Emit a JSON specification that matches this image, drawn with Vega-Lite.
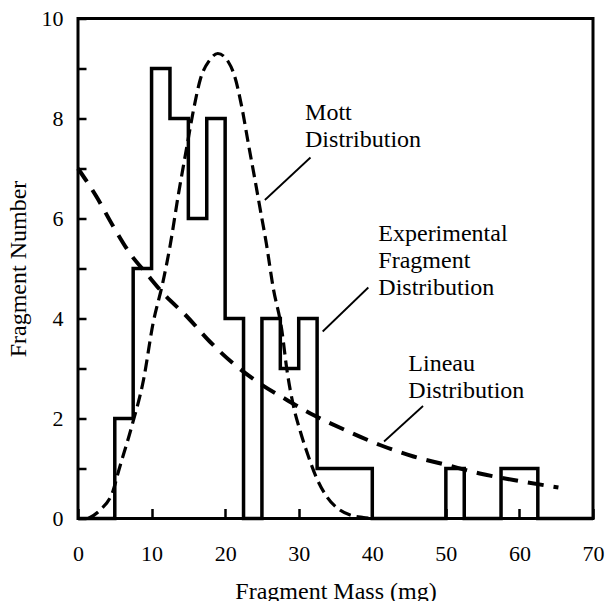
{
  "$schema": "https://vega.github.io/schema/vega-lite/v6.json",
  "width": 515,
  "height": 500,
  "autosize": "none",
  "padding": {"left": 78, "top": 18.5, "right": 12, "bottom": 82.5},
  "background": "white",
  "config": {
    "font": "Liberation Serif",
    "view": {"stroke": "black", "strokeWidth": 3},
    "axis": {
      "grid": false,
      "zindex": 1,
      "domain": false,
      "ticks": true,
      "tickColor": "black",
      "tickWidth": 2.5,
      "labelColor": "black",
      "titleColor": "black",
      "labelFont": "Liberation Serif",
      "titleFont": "Liberation Serif",
      "labelFontSize": 22,
      "titleFontSize": 24,
      "titleFontWeight": "normal",
      "labelFlush": false,
      "labelOverlap": false
    }
  },
  "datasets": {
    "hist": [
      {"x": 0, "y": 0}, {"x": 5, "y": 2}, {"x": 7.5, "y": 5}, {"x": 10, "y": 9},
      {"x": 12.5, "y": 8}, {"x": 15, "y": 6}, {"x": 17.5, "y": 8}, {"x": 20, "y": 4},
      {"x": 22.5, "y": 0}, {"x": 25, "y": 4}, {"x": 27.5, "y": 3}, {"x": 30, "y": 4},
      {"x": 32.5, "y": 1}, {"x": 40, "y": 0}, {"x": 50, "y": 1}, {"x": 52.5, "y": 0},
      {"x": 57.5, "y": 1}, {"x": 62.5, "y": 0}, {"x": 70, "y": 0}
    ],
    "mott": [
      {"x": 1.4, "y": 0}, {"x": 3.0, "y": 0.17}, {"x": 4.8, "y": 0.57}, {"x": 5.5, "y": 0.94},
      {"x": 7.3, "y": 1.84}, {"x": 8.9, "y": 2.77}, {"x": 10.2, "y": 3.9}, {"x": 11.5, "y": 4.7},
      {"x": 12.5, "y": 5.44}, {"x": 13.6, "y": 6.44}, {"x": 14.8, "y": 7.44}, {"x": 15.7, "y": 8.17},
      {"x": 16.6, "y": 8.77}, {"x": 17.9, "y": 9.17}, {"x": 19.0, "y": 9.3}, {"x": 20.4, "y": 9.14},
      {"x": 21.3, "y": 8.84}, {"x": 22.25, "y": 8.24}, {"x": 23.15, "y": 7.5}, {"x": 24.06, "y": 6.77},
      {"x": 24.7, "y": 6.24}, {"x": 25.6, "y": 5.5}, {"x": 26.5, "y": 4.64}, {"x": 27.7, "y": 3.77},
      {"x": 28.4, "y": 2.97}, {"x": 29.3, "y": 2.24}, {"x": 30.2, "y": 1.75}, {"x": 31.3, "y": 1.25},
      {"x": 32.4, "y": 0.82}, {"x": 33.8, "y": 0.44}, {"x": 35.6, "y": 0.17}, {"x": 37, "y": 0.07},
      {"x": 38.8, "y": 0.02}, {"x": 40, "y": 0}
    ],
    "lineau": [
      {"x": 0, "y": 7.0}, {"x": 2.5, "y": 6.44}, {"x": 4.8, "y": 5.84}, {"x": 7.07, "y": 5.3},
      {"x": 9.3, "y": 4.9}, {"x": 11.6, "y": 4.5}, {"x": 14.8, "y": 4.04}, {"x": 17.9, "y": 3.54},
      {"x": 21.1, "y": 3.1}, {"x": 24.7, "y": 2.7}, {"x": 28.4, "y": 2.37}, {"x": 32, "y": 2.07},
      {"x": 36.3, "y": 1.77}, {"x": 41.05, "y": 1.47}, {"x": 45.6, "y": 1.24}, {"x": 50.1, "y": 1.07},
      {"x": 54.6, "y": 0.9}, {"x": 59.2, "y": 0.77}, {"x": 65.3, "y": 0.62}
    ],
    "labels": [
      {"x": 30.86, "y": 7.97, "text": "Mott\nDistribution"},
      {"x": 40.82, "y": 5.556, "text": "Experimental\nFragment\nDistribution"},
      {"x": 44.9, "y": 2.956, "text": "Lineau\nDistribution"}
    ],
    "leaders": [
      {"x": 31.6, "y": 7.22, "x2": 25.4, "y2": 6.37},
      {"x": 39.46, "y": 4.62, "x2": 33.26, "y2": 3.74},
      {"x": 46.9, "y": 2.25, "x2": 41.6, "y2": 1.54}
    ]
  },
  "layer": [
    {
      "data": {"name": "hist"},
      "mark": {"type": "line", "interpolate": "step-after", "color": "black", "strokeWidth": 3.5, "clip": false},
      "encoding": {
        "x": {
          "field": "x", "type": "quantitative",
          "scale": {"domain": [0, 70], "nice": false},
          "axis": {
            "title": "Fragment Mass (mg)",
            "values": [0, 5, 10, 15, 20, 25, 30, 35, 40, 45, 50, 55, 60, 65, 70],
            "labelExpr": "datum.value % 10 === 0 ? datum.label : ''",
            "offset": -10,
            "tickSize": 10,
            "labelPadding": 41.5,
            "labelBaseline": "alphabetic",
            "titleY": 89.5,
            "titleBaseline": "alphabetic"
          }
        },
        "y": {
          "field": "y", "type": "quantitative",
          "scale": {"domain": [0, 10], "nice": false},
          "axis": {
            "title": "Fragment Number",
            "values": [0, 1, 2, 3, 4, 5, 6, 7, 8, 9, 10],
            "labelExpr": "datum.value % 2 === 0 ? datum.label : ''",
            "offset": -8,
            "tickSize": 8,
            "labelPadding": 15,
            "labelBaseline": "middle",
            "titleX": -61,
            "titleY": 250,
            "titleAngle": 270,
            "titleBaseline": "alphabetic",
            "titleAlign": "center"
          }
        }
      }
    },
    {
      "data": {"name": "mott"},
      "mark": {"type": "line", "interpolate": "monotone", "color": "black", "strokeWidth": 3.2, "strokeDash": [12, 6]},
      "encoding": {
        "x": {"field": "x", "type": "quantitative"},
        "y": {"field": "y", "type": "quantitative"}
      }
    },
    {
      "data": {"name": "lineau"},
      "mark": {"type": "line", "interpolate": "monotone", "color": "black", "strokeWidth": 4, "strokeDash": [16, 10]},
      "encoding": {
        "x": {"field": "x", "type": "quantitative"},
        "y": {"field": "y", "type": "quantitative"}
      }
    },
    {
      "data": {"name": "leaders"},
      "mark": {"type": "rule", "color": "black", "strokeWidth": 1.8},
      "encoding": {
        "x": {"field": "x", "type": "quantitative"},
        "y": {"field": "y", "type": "quantitative"},
        "x2": {"field": "x2"},
        "y2": {"field": "y2"}
      }
    },
    {
      "data": {"name": "labels"},
      "mark": {"type": "text", "align": "left", "baseline": "alphabetic", "fontSize": 24, "lineBreak": "\n", "lineHeight": 27, "color": "black", "font": "Liberation Serif"},
      "encoding": {
        "x": {"field": "x", "type": "quantitative"},
        "y": {"field": "y", "type": "quantitative"},
        "text": {"field": "text", "type": "nominal"}
      }
    }
  ]
}
